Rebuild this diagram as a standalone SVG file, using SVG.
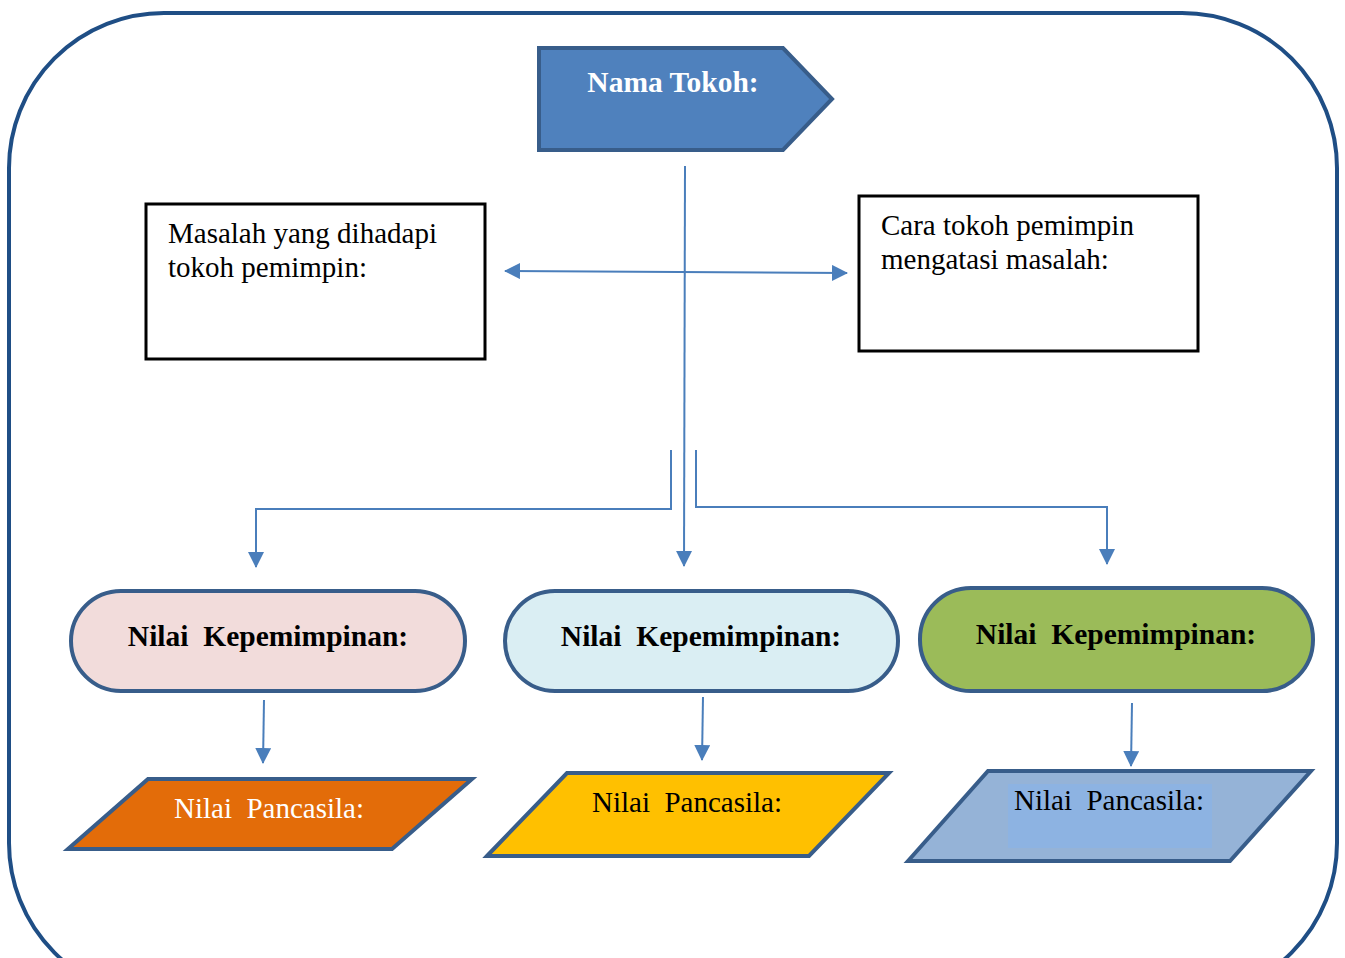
<svg xmlns="http://www.w3.org/2000/svg" width="1345" height="958" viewBox="0 0 1345 958">
<style>
.t{font-family:"Liberation Serif","Times New Roman",serif;font-size:29px}
.b{font-weight:bold;font-size:29.5px}
.c{stroke:#4a7ebb;stroke-width:2;fill:none}
.node{stroke:#385d8a;stroke-width:4}
.box{fill:#fff;stroke:#000;stroke-width:3}
</style>
<defs>
<marker id="ah" markerUnits="userSpaceOnUse" markerWidth="16" markerHeight="16" viewBox="0 0 16 16" refX="15" refY="8" orient="auto-start-reverse">
<path d="M0,0 L16,8 L0,16 Z" fill="#4a7ebb"/>
</marker>
</defs>
<rect x="0" y="0" width="1345" height="958" fill="#fff"/>
<rect id="frame" x="9" y="13" width="1328" height="985" rx="155" ry="155" fill="none" stroke="#1f4e85" stroke-width="4"/>

<g id="connectors">
<path class="c" d="M685,166 L684,566" marker-end="url(#ah)"/>
<path class="c" d="M505,271 L847,273" marker-start="url(#ah)" marker-end="url(#ah)"/>
<path class="c" d="M671,450 L671,509 L256,509 L256,567" marker-end="url(#ah)"/>
<path class="c" d="M696,450 L696,507 L1107,507 L1107,564" marker-end="url(#ah)"/>
<path class="c" d="M264,700 L263,763" marker-end="url(#ah)"/>
<path class="c" d="M703,697 L702,760" marker-end="url(#ah)"/>
<path class="c" d="M1132,703 L1131,766" marker-end="url(#ah)"/>
</g>

<g id="nama-tokoh">
<path class="node" d="M539,48 L783,48 L832,99 L783,150 L539,150 Z" fill="#4f81bd"/>
<text class="t b" x="673" y="92" text-anchor="middle" fill="#fff">Nama Tokoh:</text>
</g>

<g id="masalah">
<rect class="box" x="146" y="204" width="339" height="155"/>
<text class="t" x="168" y="243">Masalah yang dihadapi</text>
<text class="t" x="168" y="277">tokoh pemimpin:</text>
</g>

<g id="cara">
<rect class="box" x="859" y="196" width="339" height="155"/>
<text class="t" x="881" y="235">Cara tokoh pemimpin</text>
<text class="t" x="881" y="269">mengatasi masalah:</text>
</g>

<g id="nilai-kep-1">
<rect class="node" x="71" y="591" width="394" height="100" rx="50" ry="50" fill="#f2dcdb"/>
<text class="t b" x="268" y="646" text-anchor="middle" fill="#000" xml:space="preserve">Nilai  Kepemimpinan:</text>
</g>
<g id="nilai-kep-2">
<rect class="node" x="505" y="591" width="393" height="100" rx="50" ry="50" fill="#daeef3"/>
<text class="t b" x="701" y="646" text-anchor="middle" fill="#000" xml:space="preserve">Nilai  Kepemimpinan:</text>
</g>
<g id="nilai-kep-3">
<rect class="node" x="920" y="588" width="393" height="103" rx="51" ry="51" fill="#9bbb59"/>
<text class="t b" x="1116" y="644" text-anchor="middle" fill="#000" xml:space="preserve">Nilai  Kepemimpinan:</text>
</g>

<g id="pancasila-1">
<path class="node" d="M68,849 L148,779 L472,779 L392,849 Z" fill="#e36c09"/>
<text class="t" x="269" y="818" text-anchor="middle" fill="#fff" xml:space="preserve">Nilai  Pancasila:</text>
</g>
<g id="pancasila-2">
<path class="node" d="M487,856 L567,773 L889,773 L809,856 Z" fill="#ffc000"/>
<text class="t" x="687" y="812" text-anchor="middle" fill="#000" xml:space="preserve">Nilai  Pancasila:</text>
</g>
<g id="pancasila-3">
<path class="node" d="M908,861 L988,771 L1311,771 L1230,861 Z" fill="#95b3d7"/>
<rect x="1008" y="784" width="204" height="64" fill="#8db3e2"/>
<text class="t" x="1109" y="810" text-anchor="middle" fill="#000" xml:space="preserve">Nilai  Pancasila:</text>
</g>
</svg>
